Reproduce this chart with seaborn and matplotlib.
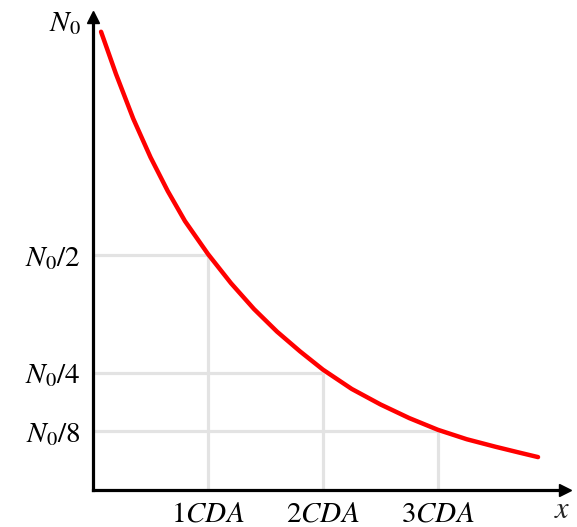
import matplotlib
matplotlib.use("Agg")
import matplotlib.pyplot as plt
import seaborn as sns
import pandas as pd

# Curve (x in CDA units, y as a fraction of N0)
curve_x = [0.07, 0.20, 0.35, 0.50, 0.65, 0.80, 1.00, 1.20, 1.40, 1.60, 1.80, 2.00, 2.25, 2.50, 2.75, 3.00, 3.25, 3.50, 3.70, 3.87]
curve_y = [0.975, 0.885, 0.790, 0.708, 0.636, 0.572, 0.502, 0.440, 0.385, 0.337, 0.295, 0.256, 0.215, 0.182, 0.153, 0.128, 0.108, 0.092, 0.080, 0.070]

# Reference levels
level_x = [1, 2, 3]
level_y = [0.5, 0.25, 0.125]
xtick_labels = ["$1CDA$", "$2CDA$", "$3CDA$"]
ytick_vals = [0.125, 0.25, 0.5, 1.0]
ytick_labels = ["$N_0/8$", "$N_0/4$", "$N_0/2$", "$N_0$"]

sns.set_theme(style="white")
plt.rcParams["mathtext.fontset"] = "stix"
plt.rcParams["font.family"] = ["DejaVu Serif"]

W, H = 577, 527
fig = plt.figure(figsize=(W / 100, H / 100), dpi=100)
x0, y0, x1, y1 = 93, 490, 565, 17  # pixel positions of axes box
ax = fig.add_axes([x0 / W, (H - y0) / H, (x1 - x0) / W, (y0 - y1) / H])
ax.set_xlim(0, (x1 - x0) / 115)
ax.set_ylim(0, (y0 - y1) / 470)

# grey guide lines
grey = "#e3e3e3"
for lx, ly in zip(level_x, level_y):
    ax.plot([0, lx], [ly, ly], color=grey, lw=2.3, zorder=1, solid_capstyle="butt")
    ax.plot([lx, lx], [0, ly], color=grey, lw=2.3, zorder=1, solid_capstyle="butt")

df = pd.DataFrame({"x": curve_x, "y": curve_y})
sns.lineplot(data=df, x="x", y="y", color="#ff0000", lw=3.2, ax=ax, zorder=3, sort=False)

# axes with arrows
for s in ["top", "right"]:
    ax.spines[s].set_visible(False)
for s in ["left", "bottom"]:
    ax.spines[s].set_color("black")
    ax.spines[s].set_linewidth(2.3)
    ax.spines[s].set_zorder(4)
ax.plot(1, 0, ">", color="black", ms=9, transform=ax.get_yaxis_transform(), clip_on=False, zorder=5)
ax.plot(0, 1, "^", color="black", ms=9, transform=ax.get_xaxis_transform(), clip_on=False, zorder=5)

ax.set_xticks(level_x)
ax.set_xticklabels(xtick_labels, fontsize=21)
ax.set_yticks(ytick_vals)
ax.set_yticklabels(ytick_labels, fontsize=21)
ax.tick_params(axis="both", length=0, colors="black")
ax.tick_params(axis="x", pad=7)
ax.tick_params(axis="y", pad=9)

ax.set_ylabel("")
ax.set_xlabel("$x$", fontsize=22)
ax.xaxis.set_label_coords((562 - x0) / (x1 - x0), -(510 - y0) / (y0 - y1))
ax.xaxis.label.set_va("center")
ax.xaxis.label.set_ha("center")

fig.savefig("out.png", dpi=100)
